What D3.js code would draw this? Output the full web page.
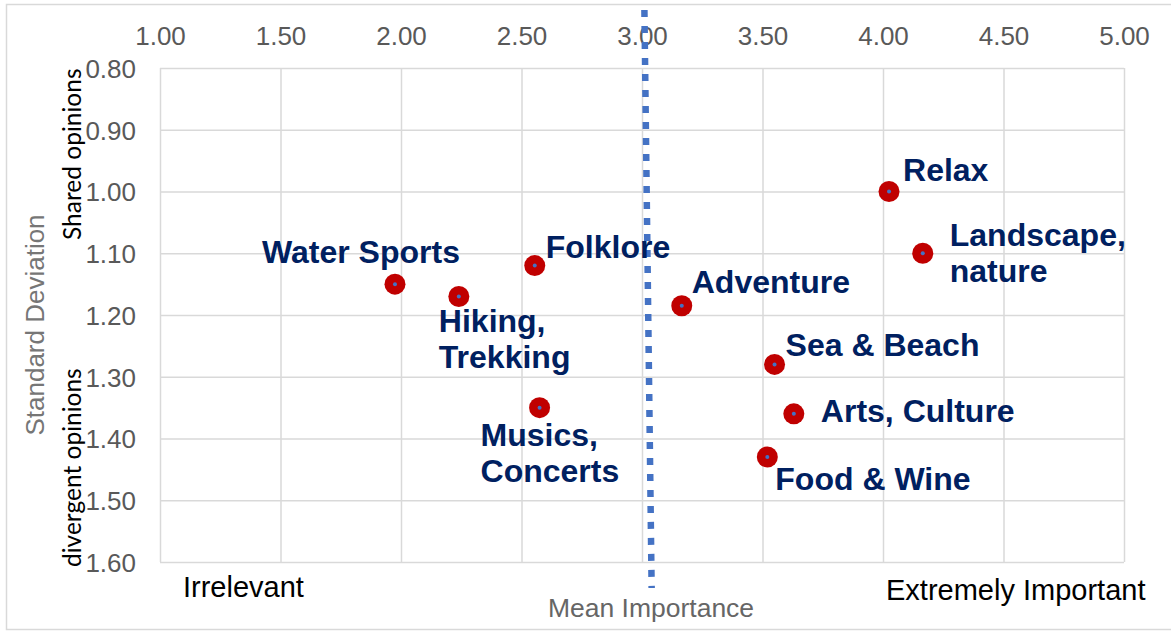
<!DOCTYPE html>
<html>
<head>
<meta charset="utf-8">
<script src="https://cdn.jsdelivr.net/npm/d3@7"></script>
<style>
  body { margin: 0; background: #fff; }
  svg { display: block; }
</style>
</head>
<body>
<svg id="chart" width="1171" height="631"></svg>
<script>
// activities, mean importance (x) and standard deviation (y)
var activities = ["Water Sports", "Hiking,\nTrekking", "Folklore", "Musics,\nConcerts", "Adventure",
                  "Relax", "Landscape,\nnature", "Sea & Beach", "Arts, Culture", "Food & Wine"];
var meanImportance = [1.975, 2.24, 2.555, 2.575, 3.165, 4.025, 4.165, 3.55, 3.63, 3.52];
var stdDeviation   = [1.15, 1.17, 1.12, 1.35, 1.185, 1.00, 1.10, 1.28, 1.36, 1.43];

var xTicks = [1.0, 1.5, 2.0, 2.5, 3.0, 3.5, 4.0, 4.5, 5.0];
var yTicks = [0.8, 0.9, 1.0, 1.1, 1.2, 1.3, 1.4, 1.5, 1.6];

// label offsets in px from the marker (text start, first baseline)
var labelDx = [-133, -20, 11, -59, 10, 14, 27, 11, 27, 8];
var labelDy = [-21, 36, -8, 38, -13, -11, -7, -8, 8, 33];

// the dotted "3.00" divider drawn on the chart (slightly slanted, as in the original)
var dividerX = [3.01, 3.04];
var dividerY = [0.706, 1.642];

var svg = d3.select("#chart"),
    plotL = 160, plotR = 1124, plotT = 68, plotB = 562,
    sans = "'Liberation Sans', Arial, sans-serif";

var x = d3.scaleLinear().domain([1, 5]).range([plotL, plotR]);
var y = d3.scaleLinear().domain([0.8, 1.6]).range([plotT, plotB]);

svg.append("rect")
    .attr("width", 1171).attr("height", 631).attr("fill", "#fff");
svg.append("rect")
    .attr("x", 6.5).attr("y", 4.5).attr("width", 1180).attr("height", 625)
    .attr("fill", "none").attr("stroke", "#d9d9d9").attr("stroke-width", 1.5);

var gx = svg.append("g")
    .attr("transform", "translate(0," + plotT + ")")
    .call(d3.axisTop(x).tickValues(xTicks).tickSize(-(plotB - plotT)).tickPadding(23)
        .tickFormat(d3.format(".2f")));
var gy = svg.append("g")
    .attr("transform", "translate(" + plotL + ",0)")
    .call(d3.axisLeft(y).tickValues(yTicks).tickSize(-(plotR - plotL)).tickPadding(24)
        .tickFormat(d3.format(".2f")));

[gx, gy].forEach(function (g) {
    g.select(".domain").remove();
    g.selectAll(".tick line").attr("stroke", "#d9d9d9").attr("stroke-width", 1.5);
    g.selectAll(".tick text")
        .attr("fill", "#595959")
        .style("font-family", sans)
        .style("font-size", "26px");
});
gx.selectAll(".tick text").attr("dy", "0");
gy.selectAll(".tick text").attr("dy", "0.36em");

// divider
svg.append("line")
    .attr("x1", x(dividerX[0])).attr("y1", y(dividerY[0]))
    .attr("x2", x(dividerX[1])).attr("y2", y(dividerY[1]))
    .attr("stroke", "#4472c4").attr("stroke-width", 6.5)
    .attr("stroke-dasharray", "7 9");

// points
var pts = activities.map(function (a, i) {
    return { name: a, mx: meanImportance[i], sd: stdDeviation[i], dx: labelDx[i], dy: labelDy[i] };
});

var g = svg.append("g");
g.selectAll("circle.outer").data(pts).enter().append("circle")
    .attr("class", "outer")
    .attr("cx", function (d) { return x(d.mx); })
    .attr("cy", function (d) { return y(d.sd); })
    .attr("r", 10.5).attr("fill", "#c00000");
g.selectAll("circle.inner").data(pts).enter().append("circle")
    .attr("class", "inner")
    .attr("cx", function (d) { return x(d.mx); })
    .attr("cy", function (d) { return y(d.sd); })
    .attr("r", 2).attr("fill", "#4472c4");

var labels = g.selectAll("text.lbl").data(pts).enter().append("text")
    .attr("class", "lbl")
    .attr("x", function (d) { return x(d.mx) + d.dx; })
    .attr("y", function (d) { return y(d.sd) + d.dy; })
    .attr("fill", "#002060")
    .style("font-family", sans)
    .style("font-size", "32px")
    .style("font-weight", "bold");
labels.each(function (d) {
    var t = d3.select(this), x0 = t.attr("x");
    d.name.split("\n").forEach(function (line, k) {
        t.append("tspan").attr("x", x0).attr("dy", k ? 36 : 0).text(line);
    });
});

// axis titles and annotations
svg.append("text")
    .attr("transform", "translate(44,325) rotate(-90)")
    .attr("text-anchor", "middle")
    .attr("fill", "#767676")
    .style("font-family", sans).style("font-size", "26px")
    .text("Standard Deviation");
svg.append("text")
    .attr("x", 651).attr("y", 617)
    .attr("text-anchor", "middle")
    .attr("fill", "#666666")
    .style("font-family", sans).style("font-size", "26.5px")
    .text("Mean Importance");

svg.append("text")
    .attr("transform", "translate(81,240) rotate(-90)")
    .attr("fill", "#000")
    .style("font-family", "Lato, 'Open Sans', sans-serif").style("font-size", "24.5px")
    .text("Shared opinions");
svg.append("text")
    .attr("transform", "translate(81,567) rotate(-90)")
    .attr("fill", "#000")
    .style("font-family", "Lato, 'Open Sans', sans-serif").style("font-size", "24.5px")
    .text("divergent opinions");

svg.append("text")
    .attr("x", 183).attr("y", 597)
    .attr("fill", "#000")
    .style("font-family", sans).style("font-size", "29px")
    .text("Irrelevant");
svg.append("text")
    .attr("x", 886).attr("y", 600)
    .attr("fill", "#000")
    .style("font-family", sans).style("font-size", "29px")
    .text("Extremely Important");
</script>
</body>
</html>
